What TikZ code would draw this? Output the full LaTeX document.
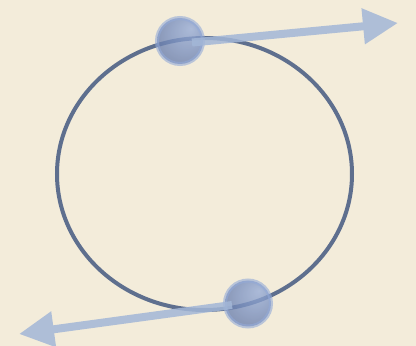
\documentclass[tikz,border=0pt]{standalone}
\usetikzlibrary{arrows.meta}
\definecolor{bg}{HTML}{F3ECDA}
\definecolor{orbit}{HTML}{5E6F8E}
\definecolor{arrowc}{HTML}{A3B7D7}
\definecolor{ballrim}{HTML}{93AAD8}
\definecolor{ballhi}{HTML}{98ADD8}
\definecolor{ballmid}{HTML}{7D93C2}
\definecolor{balldark}{HTML}{5C6E9A}
\pgfdeclareradialshading{ballshade}{\pgfpoint{12bp}{14bp}}{%
  color(0bp)=(ballhi); color(18bp)=(ballmid); color(42bp)=(balldark); color(50bp)=(balldark)}
\tikzset{
  x=1pt,y=1pt,
  orbitline/.style={draw=orbit,line width=4pt},
  ballnode/.style={circle,minimum size=46pt,inner sep=0pt,draw=ballrim,line width=4pt,
    draw opacity=0.6,shading=ballshade,fill opacity=0.78},
  vec/.style={draw=arrowc,line width=8pt,-{Triangle[length=35pt,width=34pt]}}
}
\begin{document}
\begin{tikzpicture}
\fill[bg] (0,0) rectangle (416,346);
\useasboundingbox (0,0) rectangle (416,346);
\draw[orbitline] (204.5,172) ellipse (147.5 and 136);
\node[ballnode] (b1) at (180,305) {};
\node[ballnode] (b2) at (248,42.5) {};
\coordinate (s1) at (192,303.5);
\coordinate (t1) at (398,323);
\coordinate (s2) at (232,41);
\coordinate (t2) at (19,12);
\begin{scope}[transparency group,opacity=0.85]
\draw[vec] (s1) -- (t1);
\end{scope}
\begin{scope}[transparency group,opacity=0.85]
\draw[vec] (s2) -- (t2);
\end{scope}
\end{tikzpicture}
\end{document}
